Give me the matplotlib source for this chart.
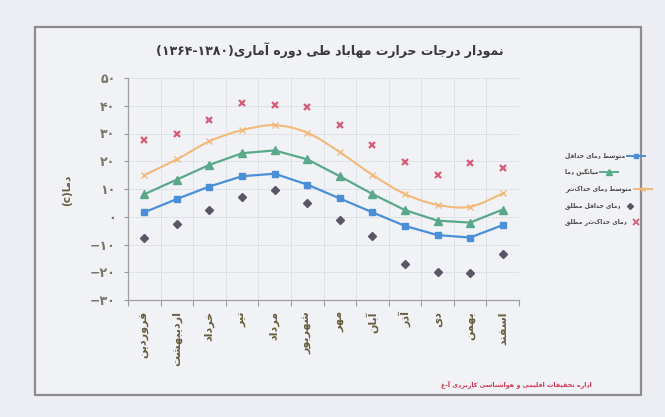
import matplotlib
matplotlib.use("Agg")
import matplotlib.pyplot as plt
from matplotlib.path import Path
from matplotlib.patches import PathPatch, Rectangle
from matplotlib.lines import Line2D
import numpy as np

# ---------------- data ----------------
months = ["فروردین", "اردیبهشت", "خرداد", "تیر", "مرداد", "شهریور",
          "مهر", "آبان", "آذر", "دی", "بهمن", "اسفند"]
avg_min = [1.6, 6.4, 10.9, 14.6, 15.5, 11.6, 6.6, 1.6, -3.3, -6.6, -7.5, -3.0]
mean_t = [8.1, 13.4, 18.7, 22.9, 23.9, 20.7, 14.6, 8.2, 2.4, -1.4, -2.1, 2.6]
avg_max = [15.0, 20.7, 27.2, 31.2, 33.0, 30.3, 23.3, 15.1, 8.2, 4.3, 3.6, 8.4]
abs_min = [-7.5, -2.6, 2.4, 7.2, 9.8, 4.8, -1.2, -6.9, -17.1, -20.0, -20.2, -13.5]
abs_max = [27.5, 30.0, 34.8, 41.0, 40.2, 39.6, 33.2, 25.7, 19.9, 15.2, 19.3, 17.6]
y_ticks = [-30, -20, -10, 0, 10, 20, 30, 40, 50]
series_names = ["متوسط دمای حداقل", "میانگین دما", "متوسط دمای حداکثر",
                "دمای حداقل مطلق", "دمای حداکثر مطلق"]
title_words = "نمودار درجات حرارت مهاباد طی دوره آماری"
title_years = "(۱۳۶۴-۱۳۸۰)"
ylabel_txt = "دما"
footer_txt = "اداره تحقیقات اقلیمی و هواشناسی کاربردی آ-غ"

# ---------------- minimal Persian shaping ----------------
F = {
    'ا': ('\uFE8D', '\uFE8E', None, None), 'آ': ('\uFE81', '\uFE82', None, None),
    'ب': ('\uFE8F', '\uFE90', '\uFE91', '\uFE92'), 'ت': ('\uFE95', '\uFE96', '\uFE97', '\uFE98'),
    'ج': ('\uFE9D', '\uFE9E', '\uFE9F', '\uFEA0'), 'ح': ('\uFEA1', '\uFEA2', '\uFEA3', '\uFEA4'),
    'خ': ('\uFEA5', '\uFEA6', '\uFEA7', '\uFEA8'), 'د': ('\uFEA9', '\uFEAA', None, None),
    'ذ': ('\uFEAB', '\uFEAC', None, None), 'ر': ('\uFEAD', '\uFEAE', None, None),
    'ز': ('\uFEAF', '\uFEB0', None, None), 'س': ('\uFEB1', '\uFEB2', '\uFEB3', '\uFEB4'),
    'ش': ('\uFEB5', '\uFEB6', '\uFEB7', '\uFEB8'), 'ط': ('\uFEC1', '\uFEC2', '\uFEC3', '\uFEC4'),
    'ع': ('\uFEC9', '\uFECA', '\uFECB', '\uFECC'), 'غ': ('\uFECD', '\uFECE', '\uFECF', '\uFED0'),
    'ف': ('\uFED1', '\uFED2', '\uFED3', '\uFED4'), 'ق': ('\uFED5', '\uFED6', '\uFED7', '\uFED8'),
    'ک': ('\uFB8E', '\uFB8F', '\uFB90', '\uFB91'), 'گ': ('\uFB92', '\uFB93', '\uFB94', '\uFB95'),
    'ل': ('\uFEDD', '\uFEDE', '\uFEDF', '\uFEE0'), 'م': ('\uFEE1', '\uFEE2', '\uFEE3', '\uFEE4'),
    'ن': ('\uFEE5', '\uFEE6', '\uFEE7', '\uFEE8'), 'ه': ('\uFEE9', '\uFEEA', '\uFEEB', '\uFEEC'),
    'و': ('\uFEED', '\uFEEE', None, None), 'ی': ('\uFBFC', '\uFBFD', '\uFBFE', '\uFBFF'),
}


def shape(s):
    out = []
    for i, c in enumerate(s):
        if c not in F:
            out.append(c)
            continue
        p = s[i - 1] if i > 0 else None
        n = s[i + 1] if i + 1 < len(s) else None
        jp = p in F and F[p][2] is not None
        jn = F[c][2] is not None and n in F
        iso, fin, ini, med = F[c]
        if jp and jn:
            out.append(med)
        elif jp:
            out.append(fin)
        elif jn:
            out.append(ini)
        else:
            out.append(iso)
    return "".join(out)


def vis(s):
    r = shape(s)[::-1]
    mirror = {'(': ')', ')': '('}
    return "".join(mirror.get(c, c) for c in r)


pdig = str.maketrans("0123456789", "۰۱۲۳۴۵۶۷۸۹")


def fa_num(v):
    s = str(abs(v)).translate(pdig)
    return ("−" + s) if v < 0 else s


# ---------------- figure ----------------
W, H = 665, 417
fig = plt.figure(figsize=(6.65, 4.17), dpi=100, facecolor="#eceef3")
fig.patches.append(Rectangle((35 / W, 1 - 395 / H), (641 - 35) / W, (395 - 27) / H,
                             transform=fig.transFigure, facecolor="#f0f2f6",
                             edgecolor="#8c8c8c", lw=1.6, zorder=-5))

ax = fig.add_axes([128 / W, 1 - 300 / H, (519 - 128) / W, (300 - 78) / H])
ax.set_zorder(2)
ax.set_facecolor("none")
x = np.arange(len(months))

c_blue, c_green, c_orange, c_dia, c_x = "#4a8fd8", "#5aa88a", "#f2b97a", "#5b5566", "#d65c78"

ax.plot(x, avg_min, color=c_blue, lw=1.6, marker="s", ms=4.5, mec=c_blue, zorder=4)
ax.plot(x, mean_t, color=c_green, lw=1.6, marker="^", ms=5.5, mec=c_green, zorder=4)

# smooth curve (Catmull-Rom as cubic Bezier) for average max
pts = np.column_stack([x, avg_max]).astype(float)
verts = [tuple(pts[0])]
codes = [Path.MOVETO]
for i in range(len(pts) - 1):
    p0 = pts[i - 1] if i > 0 else pts[i]
    p1, p2 = pts[i], pts[i + 1]
    p3 = pts[i + 2] if i + 2 < len(pts) else pts[i + 1]
    c1 = p1 + (p2 - p0) / 6.0
    c2 = p2 - (p3 - p1) / 6.0
    verts += [tuple(c1), tuple(c2), tuple(p2)]
    codes += [Path.CURVE4] * 3
ax.add_patch(PathPatch(Path(verts, codes), facecolor="none", edgecolor=c_orange, lw=1.5, zorder=3))
ax.plot(x, avg_max, ls="none", marker="x", ms=4, mew=1.0, color=c_orange, zorder=4)

ax.plot(x, abs_min, ls="none", marker="D", ms=4, color=c_dia, zorder=4)
ax.plot(x, abs_max, ls="none", marker="x", ms=5, mew=1.6, color=c_x, zorder=4)

ax.set_xlim(-0.5, len(months) - 0.5)
ax.set_ylim(-30, 50)
ax.set_yticks(y_ticks)
ax.set_yticklabels([fa_num(v) for v in y_ticks], color="#7d7468", fontsize=9,
                   fontweight="bold", family="DejaVu Sans")
ax.set_xticks(np.arange(-0.5, len(months), 1.0))
ax.set_xticklabels([])
ax.set_xticks(x, minor=True)
ax.set_xticklabels([vis(m) for m in months], minor=True, rotation=90, va="top",
                   fontsize=8, fontweight="bold", color="#6a5d3e", family="DejaVu Sans")
ax.tick_params(axis="x", which="major", direction="out", length=4, color="#9a9a9a")
ax.tick_params(axis="x", which="minor", length=0, pad=8)
ax.tick_params(axis="y", direction="out", length=3, color="#9a9a9a", pad=6)
ax.grid(True, which="major", color="#d2d6dc", lw=0.6, ls=(0, (2, 1)))
for s in ["top", "right"]:
    ax.spines[s].set_visible(False)
for s in ["left", "bottom"]:
    ax.spines[s].set_color("#a0a0a0")
    ax.spines[s].set_linewidth(0.9)
ax.axvline(len(months) - 0.5, color="#c8ccd2", lw=0.8)

fig.text(330 / W, 1 - 50 / H, title_years + vis(title_words), ha="center", va="center",
         fontsize=9, fontweight="bold", color="#3a3a3a", family="DejaVu Sans")
fig.text(67 / W, 1 - 190 / H, "(c)" + vis(ylabel_txt), rotation=90, ha="center", va="center",
         fontsize=7.5, fontweight="bold", color="#6a5d3e", family="DejaVu Sans")
fig.text(592 / W, 1 - 384 / H, vis(footer_txt), ha="right", va="center",
         fontsize=4.6, fontweight="bold", color="#d2324c", family="DejaVu Sans")

# legend (custom)
rows_y = [156, 172, 189, 206, 222]
styles = [
    dict(color=c_blue, marker="s", ms=3.5, line=True),
    dict(color=c_green, marker="^", ms=4, line=True),
    dict(color=c_orange, marker="x", ms=3, line=True),
    dict(color=c_dia, marker="D", ms=3, line=False),
    dict(color=c_x, marker="x", ms=4, line=False),
]
renderer = fig.canvas.get_renderer()
for name, yy, st in zip(series_names, rows_y, styles):
    t = fig.text(565 / W, 1 - yy / H, vis(name), ha="left", va="center",
                 fontsize=4.3, fontweight="bold", color="#4a4440", family="DejaVu Sans")
    bb = t.get_window_extent(renderer)
    x0 = bb.x1 + 2
    yf = 1 - yy / H
    if st["line"]:
        fig.lines.append(Line2D([x0 / W, (x0 + 18) / W], [yf, yf], transform=fig.transFigure,
                                color=st["color"], lw=1.4))
        fig.lines.append(Line2D([(x0 + 9) / W], [yf], transform=fig.transFigure, ls="none",
                                marker=st["marker"], ms=st["ms"], color=st["color"]))
    else:
        fig.lines.append(Line2D([(x0 + 7) / W], [yf], transform=fig.transFigure, ls="none",
                                marker=st["marker"], ms=st["ms"], color=st["color"],
                                mew=1.3 if st["marker"] == "x" else 1))

fig.savefig("out.png", dpi=100, facecolor=fig.get_facecolor())
